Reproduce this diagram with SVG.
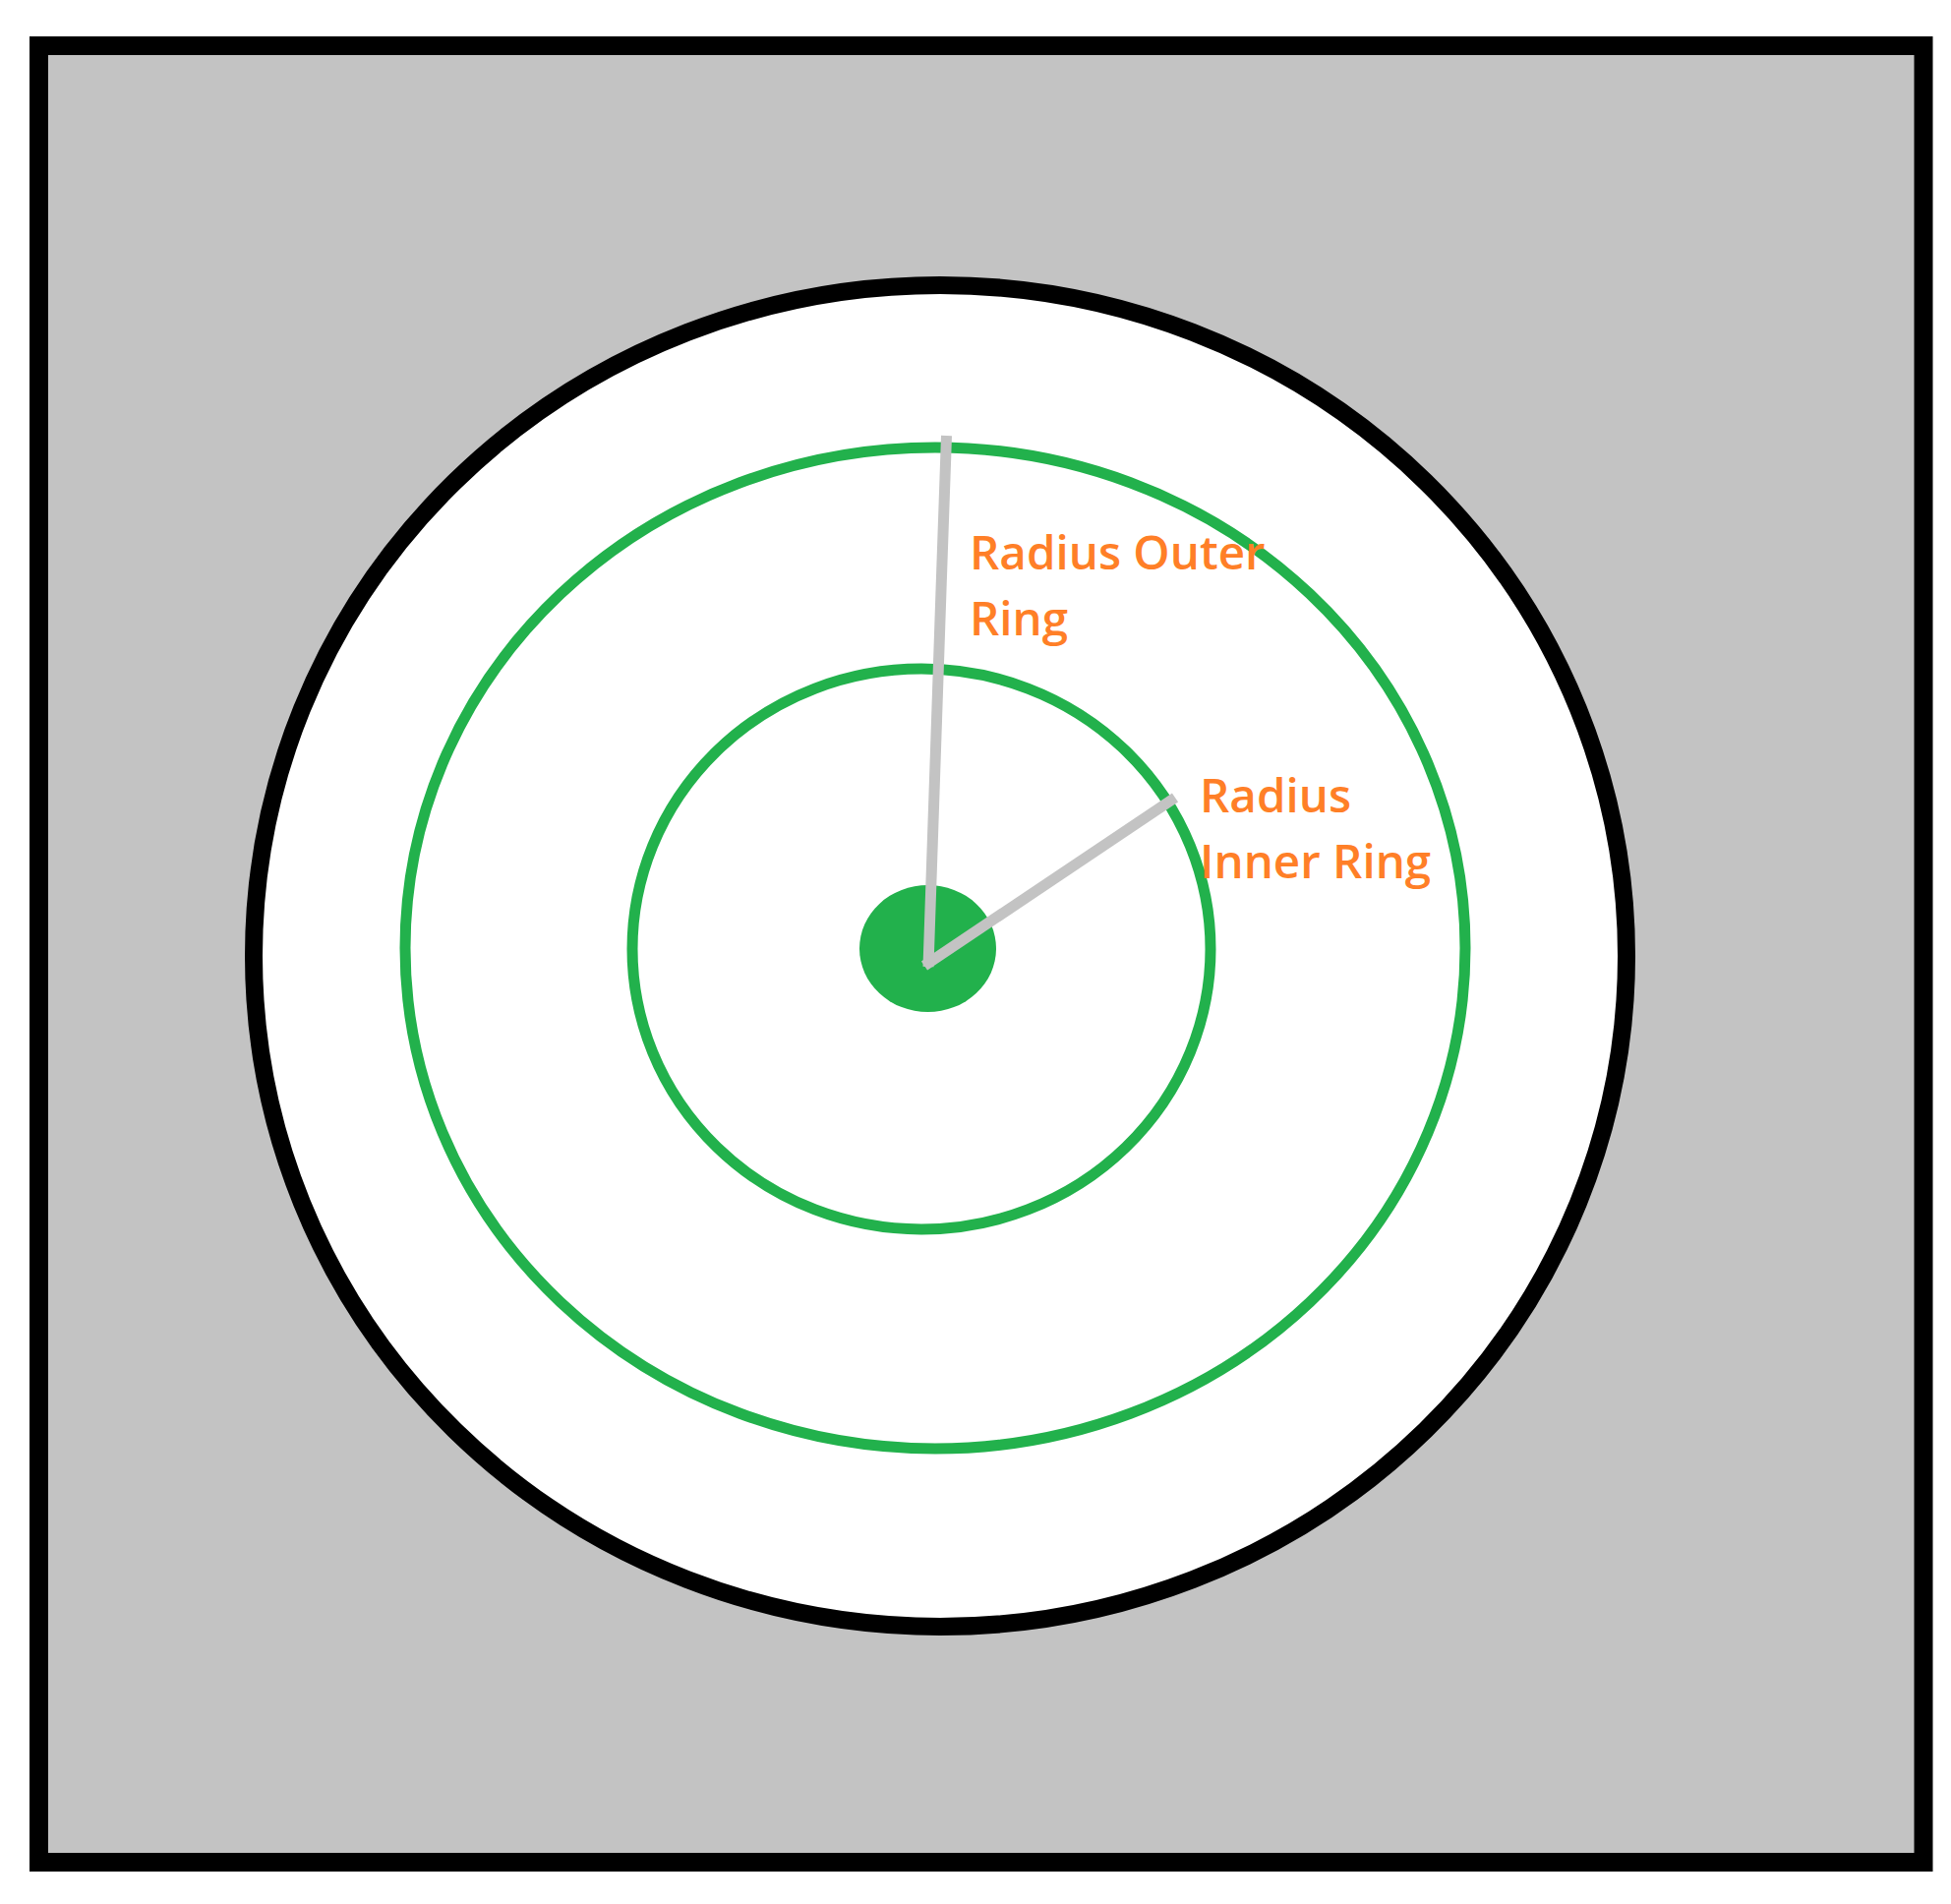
<svg xmlns="http://www.w3.org/2000/svg" width="1984" height="1936" viewBox="0 0 1984 1936">
<style>
.lbl{font-family:"Open Sans","Noto Sans","DejaVu Sans",sans-serif;font-size:47.5px;font-weight:600;fill:#ff7f27;}
.ring{fill:none;stroke:#22b14c;stroke-width:11;}
.rad{stroke:#c3c3c3;stroke-width:11;fill:none;}
</style>
<rect width="1984" height="1936" fill="#ffffff"/>
<g id="frame">
<rect x="39.5" y="46.5" width="1916.5" height="1847" fill="#c3c3c3" stroke="#000000" stroke-width="19"/>
</g>
<g id="outer-boundary">
<ellipse cx="956" cy="972" rx="698" ry="682" fill="#ffffff" stroke="#000000" stroke-width="18"/>
</g>
<g id="outer-ring">
<ellipse class="ring" cx="951" cy="964" rx="539" ry="509"/>
</g>
<g id="inner-ring">
<ellipse class="ring" cx="937" cy="965" rx="294" ry="285"/>
</g>
<g id="center">
<ellipse cx="943.5" cy="964.5" rx="69.5" ry="64.5" fill="#22b14c"/>
</g>
<g id="connectors">
<polyline class="rad" points="962.5,443 957,600 944,983"/>
<line class="rad" x1="940" y1="982" x2="1195" y2="811"/>
</g>
<g id="labels">
<text class="lbl" x="986" y="579">Radius Outer</text>
<text class="lbl" x="986" y="646">Ring</text>
<text class="lbl" x="1220" y="826">Radius</text>
<text class="lbl" x="1220" y="893">Inner Ring</text>
</g>
</svg>
